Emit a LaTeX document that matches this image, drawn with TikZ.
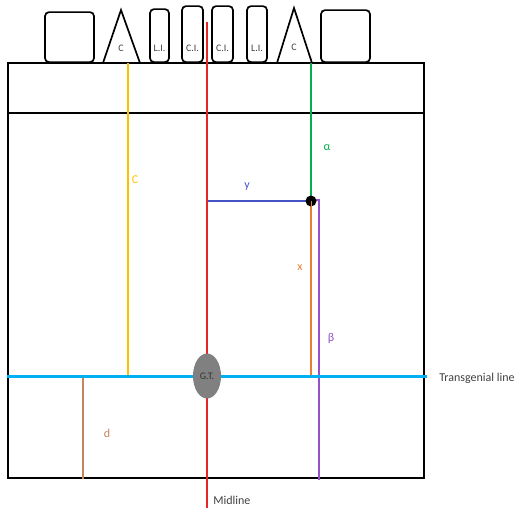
\documentclass[tikz,border=0pt]{standalone}
\usepackage{fontspec}
\setmainfont{Carlito}
\usetikzlibrary{positioning,shapes.geometric}
\definecolor{cyellow}{RGB}{255,192,0}
\definecolor{cred}{RGB}{232,36,36}
\definecolor{cgreen}{RGB}{0,176,80}
\definecolor{ccyan}{RGB}{0,176,240}
\definecolor{cblue}{RGB}{68,84,200}
\definecolor{corange}{RGB}{237,125,49}
\definecolor{cpurple}{RGB}{150,80,200}
\definecolor{cbrown}{RGB}{196,132,92}
\definecolor{cgray}{RGB}{128,128,128}
\definecolor{ctext}{RGB}{64,64,64}
\begin{document}
\begin{tikzpicture}[x=1pt,y=-1pt,semithick]
  \tikzstyle{tooth}=[draw,line width=1.7pt,rounded corners=4pt,fill=white,anchor=south,inner sep=0pt]
  \tikzstyle{lbl}=[font=\fontsize{12}{14}\selectfont,inner sep=0pt]
  \tikzstyle{tlbl}=[font=\fontsize{10}{12}\selectfont,inner sep=0pt,text=ctext]
  \tikzstyle{ref}=[line width=1.8pt]
  \useasboundingbox (0,0) rectangle (514,511);

  % teeth
  \node[tooth,minimum width=49pt,minimum height=50pt] (m1) at (69.5,63) {};
  \node[tooth,minimum width=19pt,minimum height=53pt] (li1) at (159.5,63) {};
  \node[tooth,minimum width=21pt,minimum height=56pt] (ci1) at (192.5,63) {};
  \node[tooth,minimum width=21pt,minimum height=56pt] (ci2) at (222.5,63) {};
  \node[tooth,minimum width=20pt,minimum height=56pt] (li2) at (257,63) {};
  \node[tooth,minimum width=49pt,minimum height=52pt] (m2) at (345.5,63) {};
  \draw[line width=1.7pt] (103,63) -- (121,10) -- (140,63) -- cycle;
  \draw[line width=1.7pt] (277,63) -- (294,8) -- (312,63) -- cycle;
  \node[tlbl] (c1) at (121,48) {C};
  \node[tlbl] (c2) at (294,47) {C};
  \node[tlbl,above=11pt of li1.south] {L.I.};
  \node[tlbl,above=11pt of ci1.south] {C.I.};
  \node[tlbl,above=11pt of ci2.south] {C.I.};
  \node[tlbl,above=11pt of li2.south] {L.I.};

  % jaw
  \draw[line width=1.8pt] (8,63) rectangle (424,478);
  \draw[line width=1.8pt] (8,113) -- (424,113);

  \coordinate (mtop) at (207,22);
  \coordinate (mbot) at (207,508);
  \coordinate (tl) at (7,376);
  \coordinate (tr) at (427,376);
  \coordinate (ctop) at (128,63);
  \coordinate (cbot) at (128,376);
  \coordinate (atop) at (311,63);
  \coordinate (ybeg) at (207,201);
  \coordinate (xbot) at (311,376);
  \coordinate (bcor) at (319,200);
  \coordinate (bbot) at (319,480);
  \coordinate (dtop) at (83,376);
  \coordinate (dbot) at (83,479);

  \draw[ref,cyellow] (ctop) -- (cbot);
  \draw[ref,corange] (311,201) -- (xbot);
  \draw[ref,cpurple] (311,200) -- (bcor) -- (bbot);
  \draw[ref,cgreen] (atop) -- (311,201);
  \draw[ref,cblue] (ybeg) -- (311,201);
  \draw[ref,cbrown] (dtop) -- (dbot);
  \draw[ref,cred] (mtop) -- (mbot);
  \draw[line width=3pt,ccyan] (tl) -- (tr);

  \node[circle,fill=black,minimum size=11pt,inner sep=0pt] (pt) at (311,201) {};
  \draw[line width=0.8pt,corange] (pt.center) -- (pt.south);
  \node[ellipse,fill=cgray,minimum width=28pt,minimum height=45pt,inner sep=0pt,tlbl,text=black!80] (gt) at (207,376) {G.T.};

  % labels
  \node[lbl,text=cyellow] (lc) at (135,180) {C};
  \node[lbl,text=cgreen] (la) at (327,148) {α};
  \node[lbl,text=cblue] (ly) at (247,187) {y};
  \node[lbl,text=corange] (lx) at (300,268) {x};
  \node[lbl,text=cpurple] (lb) at (331,338) {β};
  \node[lbl,text=cbrown] (ld) at (107,433) {d};
  \node[lbl,anchor=west,text=ctext] (tg) at (439,378) {Transgenial line};
  \node[lbl,anchor=west,text=ctext] (ml) at (213,500) {Midline};
\end{tikzpicture}
\end{document}
